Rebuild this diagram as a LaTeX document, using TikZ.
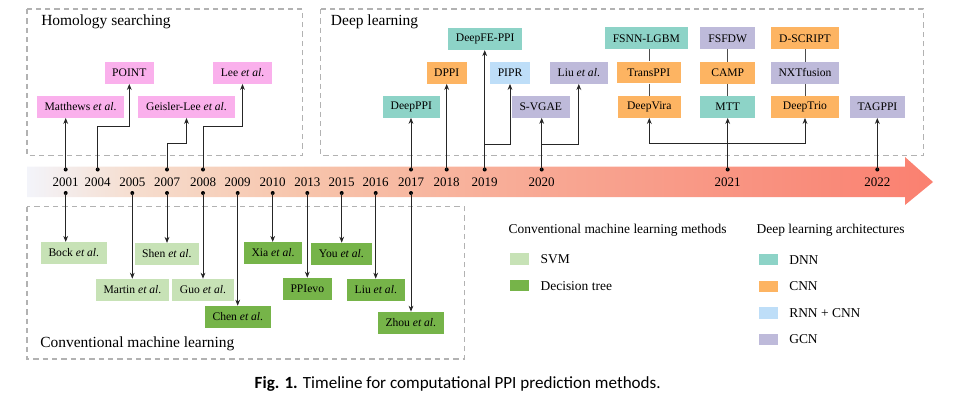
\documentclass[tikz,border=0pt]{standalone}
\usepackage{fontspec}
\setmainfont{Liberation Serif}
\newfontfamily\capfont{Carlito}
\usepackage{tikz}
\usetikzlibrary{arrows.meta}

\definecolor{homcol}{RGB}{250,176,236}
\definecolor{svmcol}{RGB}{199,226,182}
\definecolor{treecol}{RGB}{118,180,73}
\definecolor{dnncol}{RGB}{141,211,199}
\definecolor{cnncol}{RGB}{253,180,98}
\definecolor{rnncol}{RGB}{190,222,248}
\definecolor{gcncol}{RGB}{190,186,218}
\definecolor{bandA}{RGB}{243,244,250}
\definecolor{bandB}{RGB}{246,221,206}
\definecolor{bandC}{RGB}{247,197,172}
\definecolor{bandD}{RGB}{248,165,145}
\definecolor{bandE}{RGB}{250,128,112}
\pgfdeclarehorizontalshading{bandshade}{100bp}{color(0bp)=(bandA); color(25bp)=(bandA);
    color(31bp)=(bandB); color(40bp)=(bandC); color(55bp)=(bandD); color(75bp)=(bandE); color(100bp)=(bandE)}

\begin{document}
\begin{tikzpicture}[x=0.75pt, y=-0.75pt,
    box/.style={rectangle, inner sep=0pt, minimum height=16.3pt, font=\fontsize{8.7}{10}\selectfont},
    boxw/.style={minimum width=#1*0.75pt},
    year/.style={inner sep=0pt, font=\fontsize{9.75}{11}\selectfont},
    group/.style={draw=black!30, dashed, dash pattern=on 4pt off 3pt, line width=1pt},
    title/.style={anchor=west, inner sep=0pt, font=\fontsize{11.6}{13}\selectfont},
    legtext/.style={anchor=west, inner sep=0pt, font=\fontsize{10.1}{12}\selectfont},
    key/.style={rectangle, inner sep=0pt, minimum width=14.25pt, minimum height=8.5pt},
    conn/.style={draw=black!85, line width=0.6pt, -{Stealth[length=4.5pt, width=3.6pt]}},
    link/.style={draw=black!70, line width=0.6pt}]
    \useasboundingbox (0,0) rectangle (974,401);

    % Draw the dashed group frames
    \draw[group] (27,9) rectangle (302.7,155.7);
    \draw[group] (320.7,9) rectangle (923.3,155.7);
    \draw[group] (27,206.7) rectangle (464.3,359);
    \node[title] (homtitle) at (41,21.7) {Homology searching};
    \node[title] (dltitle) at (330.7,21.7) {Deep learning};
    \node[title] (cmltitle) at (40,343.3) {Conventional machine learning};

    % Draw the timeline arrow
    \shade[shading=bandshade] (27,166.5) -- (905,166.5) -- (905,157) -- (933,182)
        -- (905,205) -- (905,197) -- (27,197) -- cycle;

    % Years on the timeline, with dots above (u) and below (d)
    \foreach \yr/\xx in {2001/65.7, 2004/97.7, 2005/132.3, 2007/167, 2008/203,
        2009/237.7, 2010/272.7, 2013/307.3, 2015/341.7, 2016/375.7, 2017/411,
        2018/446.7, 2019/484.7, 2020/541.7, 2021/727.7, 2022/877.3}{
        \node[year] (y\yr) at (\xx,182) {\yr};
        \coordinate (u\yr) at (\xx,169.5);
        \coordinate (d\yr) at (\xx,193);
    }
    \foreach \yr in {2001,2004,2007,2008,2017,2018,2019,2020,2021,2022}
        \fill[black] (u\yr) circle (1.5pt);
    \foreach \yr in {2001,2005,2007,2008,2009,2010,2013,2015,2016,2017}
        \fill[black] (d\yr) circle (1.5pt);

    % Homology searching methods
    \node[box, boxw=87, fill=homcol] (matthews) at (80.5,106.8) {Matthews \textit{et al}.};
    \node[box, boxw=48.7, fill=homcol] (point) at (129.3,72.8) {POINT};
    \node[box, boxw=97, fill=homcol] (geisler) at (186.5,106.8) {Geisler-Lee \textit{et al}.};
    \node[box, boxw=58.4, fill=homcol] (lee) at (242.5,72.8) {Lee \textit{et al}.};

    % Deep learning methods
    \node[box, boxw=56.7, fill=dnncol] (deepppi) at (411.3,106.7) {DeepPPI};
    \node[box, boxw=40, fill=cnncol] (dppi) at (446.7,72.8) {DPPI};
    \node[box, boxw=73.7, fill=dnncol] (deepfe) at (485.2,39) {DeepFE-PPI};
    \node[box, boxw=40, fill=rnncol] (pipr) at (510,72.8) {PIPR};
    \node[box, boxw=57.7, fill=gcncol] (svgae) at (540.8,106.7) {S-VGAE};
    \node[box, boxw=57.7, fill=gcncol] (liudl) at (578.8,72.8) {Liu \textit{et al}.};
    \node[box, boxw=82.7, fill=dnncol] (fsnn) at (646.3,38.3) {FSNN-LGBM};
    \node[box, boxw=64.3, fill=cnncol] (transppi) at (648.8,72.5) {TransPPI};
    \node[box, boxw=63.3, fill=cnncol] (deepvira) at (649.3,106.8) {DeepVira};
    \node[box, boxw=55, fill=gcncol] (fsfdw) at (727.7,38.3) {FSFDW};
    \node[box, boxw=55, fill=cnncol] (camp) at (727.7,72.8) {CAMP};
    \node[box, boxw=55, fill=dnncol] (mtt) at (727.7,106.8) {MTT};
    \node[box, boxw=68, fill=cnncol] (dscript) at (805,38.3) {D-SCRIPT};
    \node[box, boxw=68, fill=gcncol] (nxt) at (805,72.8) {NXTfusion};
    \node[box, boxw=68, fill=cnncol] (deeptrio) at (805,106.8) {DeepTrio};
    \node[box, boxw=55, fill=gcncol] (tagppi) at (877.5,106.8) {TAGPPI};

    % Conventional machine learning methods
    \node[box, boxw=65.7, fill=svmcol] (bock) at (73.8,253) {Bock \textit{et al}.};
    \node[box, boxw=63.7, fill=svmcol] (shen) at (166.8,254) {Shen \textit{et al}.};
    \node[box, boxw=73, fill=svmcol] (martin) at (132.5,289.8) {Martin \textit{et al}.};
    \node[box, boxw=62, fill=svmcol] (guo) at (203,289.8) {Guo \textit{et al}.};
    \node[box, boxw=65.7, fill=treecol] (chen) at (237.8,316.8) {Chen \textit{et al}.};
    \node[box, boxw=57.4, fill=treecol] (xia) at (273,253) {Xia \textit{et al}.};
    \node[box, boxw=48.7, fill=treecol] (ppievo) at (307.3,288.8) {PPIevo};
    \node[box, boxw=60.7, fill=treecol] (you) at (341.3,253.8) {You \textit{et al}.};
    \node[box, boxw=57.7, fill=treecol] (liucml) at (375.8,289.8) {Liu \textit{et al}.};
    \node[box, boxw=65.7, fill=treecol] (zhou) at (410.8,322.8) {Zhou \textit{et al}.};

    % Connectors up to the homology searching methods
    \draw[conn] (u2001) -- (u2001 |- matthews.south);
    \draw[conn] (u2004) -- ++(0,-42.8) -| (point.south);
    \draw[conn] (u2007) -- ++(0,-26.2) -| (geisler.south);
    \draw[conn] (u2008) -- ++(0,-42.8) -| (lee.south);

    % Connectors up to the deep learning methods
    \draw[conn] (u2017) -- (u2017 |- deepppi.south);
    \draw[conn] (u2018) -- (u2018 |- dppi.south);
    \draw[conn] (u2019) -- (u2019 |- deepfe.south);
    \draw[conn] (u2019) ++(0,-25.5) -| (pipr.south);
    \draw[conn] (u2020) -- (u2020 |- svgae.south);
    \draw[conn] (u2020) ++(0,-25.5) -| (liudl.south);
    \draw[conn] (u2021) -- (u2021 |- mtt.south);
    \draw[conn] (u2021) ++(0,-26.2) -| (deepvira.south);
    \draw[conn] (u2021) ++(0,-26.2) -| (deeptrio.south);
    \draw[conn] (u2022) -- (u2022 |- tagppi.south);

    % Plain links inside the 2021 columns
    \draw[link] (fsnn.south -| deepvira.north) -- (transppi.north -| deepvira.north);
    \draw[link] (transppi.south -| deepvira.north) -- (deepvira.north);
    \draw[link] (fsfdw) -- (camp);
    \draw[link] (camp) -- (mtt);
    \draw[link] (dscript) -- (nxt);
    \draw[link] (nxt) -- (deeptrio);

    % Connectors down to the conventional methods
    \draw[conn] (d2001) -- (d2001 |- bock.north);
    \draw[conn] (d2005) -- (d2005 |- martin.north);
    \draw[conn] (d2007) -- (d2007 |- shen.north);
    \draw[conn] (d2008) -- (d2008 |- guo.north);
    \draw[conn] (d2009) -- (d2009 |- chen.north);
    \draw[conn] (d2010) -- (d2010 |- xia.north);
    \draw[conn] (d2013) -- (d2013 |- ppievo.north);
    \draw[conn] (d2015) -- (d2015 |- you.north);
    \draw[conn] (d2016) -- (d2016 |- liucml.north);
    \draw[conn] (d2017) -- (d2017 |- zhou.north);

    % Legend
    \node[legtext] (cmlhead) at (508.3,230.7) {Conventional machine learning methods};
    \node[key, fill=svmcol] (svmkey) at (519.5,259) {};
    \node[legtext] (svmtext) at (540.3,259) {SVM};
    \node[key, fill=treecol] (treekey) at (519.5,285.8) {};
    \node[legtext] (treetext) at (540.3,285.8) {Decision tree};
    \node[legtext] (dlhead) at (756.3,230.7) {Deep learning architectures};
    \node[key, fill=dnncol] (dnnkey) at (768.5,259.8) {};
    \node[legtext] (dnntext) at (789,259.8) {DNN};
    \node[key, fill=cnncol] (cnnkey) at (768.5,286.5) {};
    \node[legtext] (cnntext) at (789,286.5) {CNN};
    \node[key, fill=rnncol] (rnnkey) at (768.5,313) {};
    \node[legtext] (rnntext) at (789,313) {RNN + CNN};
    \node[key, fill=gcncol] (gcnkey) at (768.5,339.4) {};
    \node[legtext] (gcntext) at (789,339.4) {GCN};

    % Caption
    \node[anchor=east, inner sep=0pt, font=\capfont\fontsize{12.8}{14}\selectfont] (caption) at (661,384)
        {\textbf{Fig. 1.} Timeline for computational PPI prediction methods.};
\end{tikzpicture}
\end{document}
